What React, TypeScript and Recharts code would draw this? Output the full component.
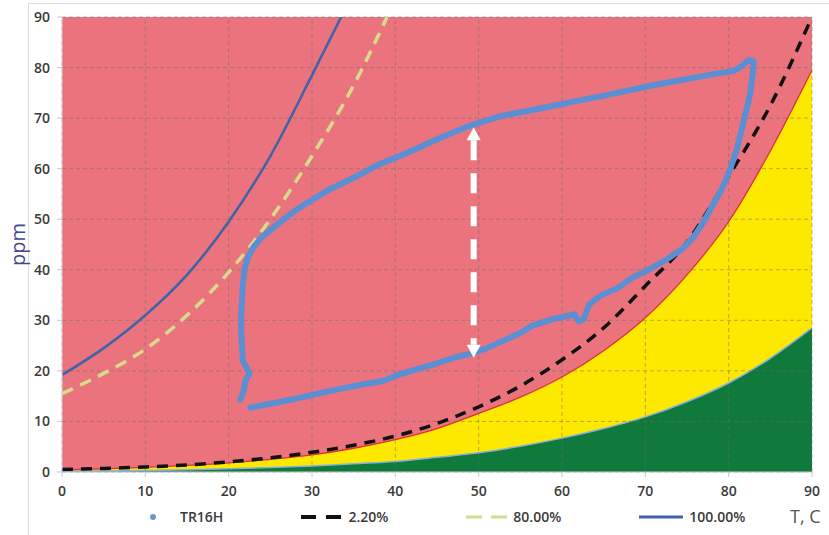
import React from 'react';
import {
  ComposedChart, Area, Line, XAxis, YAxis, CartesianGrid, ReferenceLine, Legend,
} from 'recharts';

// temperature grid for the limit curves
const temps = [0, 5, 10, 15, 20, 25, 30, 35, 40, 45, 50, 55, 60, 65, 70, 75, 80, 85, 90];
const redLimit = [0.4, 0.6, 0.9, 1.3, 1.8, 2.5, 3.4, 4.7, 6.4, 8.6, 11.6, 14.8, 18.8, 24, 30.5, 39, 49.5, 63.5, 79.5];
const greenLimit = [0.15, 0.2, 0.3, 0.45, 0.65, 0.9, 1.2, 1.65, 2.1, 2.9, 3.8, 5.1, 6.7, 8.6, 10.9, 13.9, 17.6, 22.5, 28.5];
const oil22 = [0.5, 0.7, 1.0, 1.4, 2.0, 2.8, 3.9, 5.3, 7.1, 9.6, 12.9, 17, 22.2, 28.5, 36.8, 45.5, 58.5, 72.5, 90];

const sat80T = [0, 5, 10, 15, 20, 25, 30, 35, 39];
const sat80 = [15.5, 19.5, 24.3, 31, 39.5, 50, 62.5, 76.5, 90];
const sat100T = [0, 5, 10, 15, 20, 25, 30, 33.5];
const sat100 = [19.2, 24.5, 31, 39, 49.5, 62.5, 78.5, 90];

const loopT = [
  21.4, 21.8, 22.0, 22.5, 22.2, 21.7, 21.6, 21.5, 21.5, 21.6, 21.7, 21.9, 22.3, 23.0, 24.0, 25.5, 27.0, 28.6,
  30, 32, 35, 38, 41.4, 45, 48.6, 50, 52.6, 55.5, 58.6, 61.5, 64.6, 67.5, 70.6, 73.5, 76.6, 78.5, 80.5, 81.5,
  82.4, 83.0, 82.9, 82.6, 82.2, 81.6, 81, 80.2, 79.2, 78, 77, 75.8, 74.5, 72.5, 70.6, 68.5, 66.6, 65, 64,
  63.2, 62.6, 62, 61.5, 60.5, 59, 57.5, 56.5, 55, 53, 51, 49.3, 47, 45, 42.5, 40, 38.5, 36, 33.5, 31, 28.6,
  26, 24, 22.6,
];
const loopPpm = [
  14.3, 16, 18, 19.5, 20.5, 22, 25, 28, 31, 34, 37, 40, 42.5, 44.5, 46.5, 48.5, 50.5, 52.4,
  53.8, 55.8, 58.2, 60.8, 63.1, 65.8, 68.3, 69, 70.4, 71.3, 72.3, 73.3, 74.3, 75.3, 76.4, 77.3, 78.2, 78.8, 79.3, 80.2,
  81.5, 81.2, 79, 75, 72, 68, 64, 60, 56, 52.5, 49.5, 46.5, 44.2, 42, 40.2, 38.5, 36.3, 35.2, 34.2,
  33, 30.2, 29.8, 31.2, 30.8, 30.3, 29.5, 29, 27.5, 26, 24.5, 23.5, 22.6, 21.5, 20.3, 19, 18, 17.3, 16.5, 15.6, 14.7,
  13.8, 13.2, 12.7,
];

const xTicks = [0, 10, 20, 30, 40, 50, 60, 70, 80, 90];
const yTicks = [0, 10, 20, 30, 40, 50, 60, 70, 80, 90];

// white double arrow between the two branches
const arrowT = 49.4;
const arrowTop = 68.2;
const arrowBottom = 22.6;

const legendNames = ['TR16H', '2.20%', '80.00%', '100.00%'];

const bandData = temps.map((t, i) => ({ t, red: redLimit[i], green: greenLimit[i], oil: oil22[i] }));
const sat80Data = sat80T.map((t, i) => ({ t, v: sat80[i] }));
const sat100Data = sat100T.map((t, i) => ({ t, v: sat100[i] }));
const loopData = loopT.map((t, i) => ({ t, ppm: loopPpm[i] }));

const FONT = '"Open Sans", sans-serif';
const gridStroke = 'rgba(110,110,110,0.5)';

const LegendIcon = ({ name }: { name: string }) => {
  if (name === 'TR16H') {
    return <svg width={41} height={10}><circle cx={20} cy={5} r={3} fill="#6f95cc" /></svg>;
  }
  if (name === '2.20%') {
    return <svg width={41} height={10}><line x1={0} y1={5} x2={40} y2={5} stroke="#111" strokeWidth={4} strokeDasharray="15 10" /></svg>;
  }
  if (name === '80.00%') {
    return <svg width={41} height={10}><line x1={0} y1={5} x2={41} y2={5} stroke="#cfdc8a" strokeWidth={3} strokeDasharray="16 9" /></svg>;
  }
  return <svg width={44} height={10}><line x1={0} y1={5} x2={44} y2={5} stroke="#3d64a8" strokeWidth={3} /></svg>;
};

const renderLegend = () => (
  <div style={{ position: 'relative', height: 24, fontFamily: FONT, fontSize: 14, fontWeight: 600, color: '#3a3a3a' }}>
    <div style={{ position: 'absolute', left: 133, top: 2, display: 'flex', gap: 78, alignItems: 'center' }}>
      {legendNames.map((n) => (
        <div key={n} style={{ display: 'flex', alignItems: 'center', gap: 6 }}>
          <LegendIcon name={n} />
          <span>{n}</span>
        </div>
      ))}
    </div>
    <span style={{ position: 'absolute', left: 790, top: -1, fontSize: 18, fontWeight: 400, color: '#555' }}>T, C</span>
  </div>
);

const ArrowShape = (props: any) => {
  const { x1, y1, x2, y2 } = props;
  const x = x1;
  const top = Math.min(y1, y2);
  const bottom = Math.max(y1, y2);
  const head = 13;
  return (
    <g>
      <line x1={x} y1={top + head} x2={x2} y2={bottom - head} stroke="#fff" strokeWidth={6} strokeDasharray="20 13" />
      <polygon points={`${x},${top} ${x - 7},${top + head} ${x + 7},${top + head}`} fill="#fff" />
      <polygon points={`${x},${bottom} ${x - 7},${bottom - head} ${x + 7},${bottom - head}`} fill="#fff" />
    </g>
  );
};

const PpmLabel = (props: any) => {
  const vb = props.viewBox || { x: 28, y: 17, height: 455 };
  const x = vb.x - 8;
  const y = vb.y + vb.height / 2;
  return (
    <text x={x} y={y} transform={`rotate(-90 ${x} ${y})`} textAnchor="middle" dominantBaseline="middle"
      fontFamily={FONT} fontSize={20} fill="#46468c">ppm</text>
  );
};

export default function App() {
  const tickStyle = { fontFamily: FONT, fontSize: 14, fontWeight: 600, fill: '#3a3a3a' };
  return (
    <div style={{ position: 'absolute', left: 0, top: 0, width: 829, height: 535, background: '#fff', overflow: 'hidden' }}>
      <div style={{ position: 'absolute', left: 28, top: 3, right: 0, bottom: 0, borderLeft: '1px solid #dcdcdc', borderTop: '1px solid #dcdcdc' }} />
      <ComposedChart width={829} height={535} margin={{ top: 17, right: 17, left: 28, bottom: 33 }}>
        <CartesianGrid fill="#eb737d" fillOpacity={1} horizontal={false} vertical={false} />
        <XAxis dataKey="t" type="number" domain={[0, 90]} ticks={xTicks} allowDataOverflow
          height={30} tickSize={5} tickMargin={9} tick={tickStyle}
          axisLine={{ stroke: '#c8c8c8' }} tickLine={{ stroke: '#c8c8c8' }} />
        <YAxis type="number" domain={[0, 90]} ticks={yTicks} allowDataOverflow
          width={34} tickSize={5} tickMargin={7} tick={tickStyle}
          axisLine={{ stroke: '#d8d8d8' }} tickLine={{ stroke: '#c8c8c8' }} label={<PpmLabel />} />
        <Area data={bandData} dataKey="red" type="monotone" fill="#fde800" fillOpacity={1}
          stroke="#d7343a" strokeWidth={1.3} isAnimationActive={false} legendType="none" />
        <Area data={bandData} dataKey="green" type="monotone" fill="#0f7a3c" fillOpacity={1}
          stroke="#86aee0" strokeWidth={1.5} isAnimationActive={false} legendType="none" />
        {xTicks.map((t) => (
          <ReferenceLine key={'vx' + t} x={t} stroke={gridStroke} strokeDasharray="4 3" />
        ))}
        {yTicks.map((v) => (
          <ReferenceLine key={'hy' + v} y={v} stroke={gridStroke} strokeDasharray="4 3" />
        ))}
        <Line data={sat100Data} dataKey="v" name="100.00%" type="monotone" stroke="#3d64a8" strokeWidth={2.5}
          dot={false} activeDot={false} isAnimationActive={false} />
        <Line data={sat80Data} dataKey="v" name="80.00%" type="monotone" stroke="#d6dc8c" strokeWidth={3.5}
          strokeDasharray="12 8" dot={false} activeDot={false} isAnimationActive={false} />
        <Line data={bandData} dataKey="oil" name="2.20%" type="monotone" stroke="#111" strokeWidth={3.5}
          strokeDasharray="11 8" dot={false} activeDot={false} isAnimationActive={false} />
        <Line data={loopData} dataKey="ppm" name="TR16H" type="linear" stroke="#5b8fd4" strokeWidth={6}
          strokeLinejoin="round" strokeLinecap="round" dot={false} activeDot={false} isAnimationActive={false} />
        <ReferenceLine segment={[{ x: arrowT, y: arrowBottom }, { x: arrowT, y: arrowTop }]} shape={<ArrowShape />} />
        <Legend verticalAlign="middle" content={renderLegend}
          wrapperStyle={{ position: 'absolute', left: 0, top: 505, width: 829, height: 24 }} />
      </ComposedChart>
    </div>
  );
}
